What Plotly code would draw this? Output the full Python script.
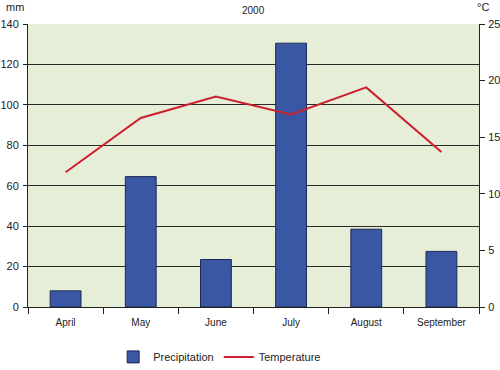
import plotly.graph_objects as go

months = ["April", "May", "June", "July", "August", "September"]
precipitation = [8, 64.5, 23.5, 130.5, 38.5, 27.5]
temperature = [11.9, 16.7, 18.6, 17.0, 19.4, 13.7]
left_ticks = [0, 20, 40, 60, 80, 100, 120, 140]
right_ticks = [0, 5, 10, 15, 20, 25]

fig = go.Figure()
fig.add_trace(go.Bar(
    x=months, y=precipitation, name="Precipitation",
    marker=dict(color="#3957a3", line=dict(color="#1c2a55", width=1)),
    width=0.41,
))
fig.add_trace(go.Scatter(
    x=months, y=temperature, name="Temperature", yaxis="y2",
    mode="lines", line=dict(color="#cc1f2f", width=2),
))

fig.update_layout(
    width=500, height=370,
    margin=dict(l=28, r=21, t=24, b=63, autoexpand=False),
    paper_bgcolor="white", plot_bgcolor="#e7eed8",
    font=dict(family="Liberation Sans, Arial, sans-serif", size=10, color="#222"),
    showlegend=True,
    legend=dict(orientation="h", x=0.425, xanchor="center", y=-0.125, yanchor="top",
                font=dict(size=11), traceorder="normal"),
    xaxis=dict(
        tickson="boundaries", ticks="outside", ticklen=6, tickcolor="#222",
        showline=True, linecolor="#222", linewidth=1, showgrid=False,
        automargin=False, ticklabelstandoff=6,
    ),
    yaxis=dict(
        range=[0, 140], tickvals=left_ticks, ticks="outside", ticklen=4,
        tickcolor="#222", showline=True, linecolor="#222", linewidth=1,
        gridcolor="#2a2a2a", gridwidth=1, zeroline=False, tickfont=dict(size=11),
        automargin=False, ticklabelstandoff=2,
    ),
    yaxis2=dict(
        range=[0, 25], tickvals=right_ticks, overlaying="y", side="right",
        ticks="outside", ticklen=5, tickcolor="#222", showline=True,
        linecolor="#222", linewidth=1, showgrid=False, zeroline=False,
        tickfont=dict(size=11), automargin=False, ticklabelstandoff=1,
    ),
)

fig.add_annotation(text="2000", xref="paper", yref="paper", x=0.5, y=1.0, yshift=21,
                   showarrow=False, font=dict(size=10))
fig.add_annotation(text="mm", xref="paper", yref="paper", x=0, y=1.0, xshift=-24, yshift=25,
                   showarrow=False, font=dict(size=11))
fig.add_annotation(text="°C", xref="paper", yref="paper", x=1, y=1.0, xshift=12, yshift=25,
                   showarrow=False, font=dict(size=11))

fig.write_html("out.html", config={"displayModeBar": False},
               post_script="document.body.style.margin='0';document.body.style.padding='0';")
